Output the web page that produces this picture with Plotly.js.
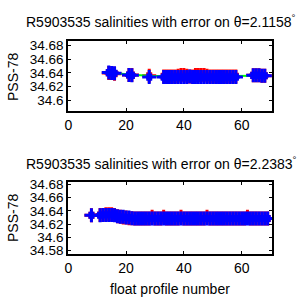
<!DOCTYPE html>
<html><head><meta charset="utf-8">
<script src="https://cdn.plot.ly/plotly-3.0.1.min.js"></script>
<style>html,body{margin:0;padding:0;background:#fff}#c{width:300px;height:300px}</style>
</head><body><div id="c"></div>
<script>
// Top panel (theta = 2.1158)
const topProfiles = [14,15,16,21,22,28,33,34,35,36,37,38,39,40,41,42,43,44,45,46,47,48,49,50,51,52,53,54,55,56,57,58,64,65,66,67,68];
const topUncal   = [34.640,34.640,34.639,34.637,34.637,34.636,34.635,34.635,34.635,34.635,34.635,34.636,34.637,34.637,34.636,34.635,34.635,34.637,34.637,34.637,34.637,34.636,34.635,34.635,34.635,34.635,34.635,34.635,34.635,34.635,34.635,34.635,34.6365,34.6365,34.6365,34.636,34.636];
const topCal     = [34.6405,34.640,34.6395,34.637,34.6365,34.634,34.634,34.634,34.634,34.634,34.634,34.634,34.634,34.634,34.634,34.635,34.634,34.634,34.634,34.634,34.634,34.634,34.634,34.634,34.634,34.634,34.634,34.634,34.634,34.634,34.634,34.634,34.6365,34.6365,34.6365,34.636,34.636];
const topErr     = [0.003,0.003,0.003,0.003,0.003,0.003,0.003,0.003,0.003,0.003,0.003,0.003,0.003,0.003,0.003,0.003,0.003,0.003,0.003,0.003,0.003,0.003,0.003,0.003,0.003,0.003,0.003,0.003,0.003,0.003,0.003,0.003,0.003,0.003,0.003,0.003,0.003];
const topMapped  = [34.6405,34.640,34.6398,34.638,34.6375,34.636,34.6357,34.6356,34.6356,34.6356,34.6356,34.6356,34.6356,34.6356,34.6356,34.6356,34.6356,34.6355,34.6355,34.6355,34.6355,34.6355,34.6355,34.6355,34.6355,34.6355,34.6355,34.6355,34.6355,34.6355,34.6354,34.6353,34.6352,34.6355,34.6357,34.6358,34.636];

// Bottom panel (theta = 2.2383)
const botProfiles = [8,11,12,13,14,15,16,17,18,19,20,21,22,23,24,25,26,27,28,29,30,31,32,33,34,35,36,37,38,39,40,41,42,43,44,45,46,47,48,49,50,51,52,53,54,55,56,57,58,59,60,61,62,63,64,65,66,67,68,69];
const botUncal   = [34.6335,34.634,34.634,34.635,34.635,34.635,34.634,34.632,34.631,34.630,34.630,34.629,34.629,34.6285,34.6285,34.6285,34.6285,34.6285,34.6285,34.631,34.6285,34.6285,34.6285,34.631,34.6285,34.6285,34.6285,34.6285,34.6285,34.631,34.6285,34.6285,34.6285,34.6285,34.6285,34.6285,34.6285,34.6285,34.631,34.6285,34.6285,34.6285,34.6285,34.6285,34.6285,34.6285,34.6285,34.6285,34.6285,34.6285,34.6285,34.6285,34.631,34.6285,34.6285,34.6285,34.6285,34.6285,34.6285,34.6285];
const botCal     = [34.6335,34.6335,34.634,34.634,34.634,34.634,34.6335,34.632,34.631,34.631,34.630,34.630,34.629,34.6285,34.6285,34.6285,34.6285,34.6285,34.6285,34.6285,34.6285,34.6285,34.6285,34.6285,34.6285,34.6285,34.6285,34.6285,34.6285,34.6285,34.6285,34.6285,34.6285,34.6285,34.6285,34.6285,34.6285,34.6285,34.6285,34.6285,34.6285,34.6285,34.6285,34.6285,34.6285,34.6285,34.6285,34.6285,34.6285,34.6285,34.6285,34.6285,34.6285,34.6285,34.6285,34.6285,34.6285,34.6285,34.6285,34.6285];
const botErr     = [0.003,0.003,0.003,0.003,0.003,0.003,0.003,0.003,0.003,0.003,0.003,0.003,0.003,0.003,0.003,0.003,0.003,0.003,0.003,0.003,0.003,0.003,0.003,0.003,0.003,0.003,0.003,0.003,0.003,0.003,0.003,0.003,0.003,0.003,0.003,0.003,0.003,0.003,0.003,0.003,0.003,0.003,0.003,0.003,0.003,0.003,0.003,0.003,0.003,0.003,0.003,0.003,0.003,0.003,0.003,0.003,0.003,0.003,0.003,0.003];

const xTicks = [0,20,40,60];
const topYTicks = [34.6,34.62,34.64,34.66,34.68];
const topYLabels = ['34.6','34.62','34.64','34.66','34.68'];
const botYTicks = [34.58,34.6,34.62,34.64,34.66,34.68];
const botYLabels = ['34.58','34.6','34.62','34.64','34.66','34.68'];
const topTitle = 'R5903535 salinities with error on θ=2.1158<sup>°</sup>';
const botTitle = 'R5903535 salinities with error on θ=2.2383<sup>°</sup>';
const yTitle = 'PSS-78';
const xTitle = 'float profile number';

const FONT = 'Liberation Sans, Arial, sans-serif';
const red = '#ff0000', blue = '#0000ff', green = '#00ff00';

function marks(x, y, err, color, xa, ya, lines) {
  return {
    x: x, y: y, xaxis: xa, yaxis: ya, type: 'scatter',
    mode: lines ? 'lines+markers' : 'markers',
    line: {color: color, width: 2},
    marker: {symbol: 'cross-thin', size: 10, color: color, line: {color: color, width: 3}},
    error_y: {type: 'data', array: err, visible: true, color: color, thickness: 3, width: 3},
    showlegend: false, hoverinfo: 'skip'
  };
}

const data = [
  marks(topProfiles, topUncal, topErr, red, 'x', 'y', false),
  {x: topProfiles, y: topMapped, xaxis: 'x', yaxis: 'y', type: 'scatter', mode: 'lines', line: {color: green, width: 2}, showlegend: false},
  marks(topProfiles, topCal, topErr, blue, 'x', 'y', false),
  marks(botProfiles, botUncal, botErr, red, 'x2', 'y2', false),
  marks(botProfiles, botCal, botErr, blue, 'x2', 'y2', true)
];

const TF = {family: FONT, size: 14, color: '#000'};
const YF = {family: FONT, size: 13.5, color: '#000'};

function xax(anchor) {
  return {
    anchor: anchor, domain: [0.2277, 0.9077], range: [0, 70.6],
    tickvals: xTicks, ticktext: xTicks.map(String),
    ticks: 'inside', ticklen: 3, tickwidth: 1, tickcolor: '#000',
    showline: true, linecolor: '#000', linewidth: 2, mirror: 'ticks',
    showgrid: false, zeroline: false, tickfont: TF
  };
}
function yax(anchor, dom, range, tv, tt) {
  return {
    anchor: anchor, domain: dom, range: range,
    tickvals: tv, ticktext: tt,
    ticks: 'inside', ticklen: 3, tickwidth: 1, tickcolor: '#000',
    showline: true, linecolor: '#000', linewidth: 2, mirror: 'ticks',
    showgrid: false, zeroline: false, tickfont: YF
  };
}
function ann(text, x, y, angle) {
  return {text: text, xref: 'paper', yref: 'paper', x: x / 300, y: 1 - y / 300, showarrow: false,
          xanchor: 'center', yanchor: 'middle', textangle: angle || 0, font: TF};
}

const layout = {
  width: 300, height: 300,
  margin: {l: 0, r: 0, t: 0, b: 0},
  paper_bgcolor: '#fff', plot_bgcolor: '#fff',
  xaxis: xax('y'),
  yaxis: yax('x', [0.631, 0.8643], [34.585, 34.687], topYTicks, topYLabels),
  xaxis2: xax('y2'),
  yaxis2: yax('x2', [0.1533, 0.3943], [34.575, 34.684], botYTicks, botYLabels),
  annotations: [
    ann(topTitle, 161, 21),
    ann(botTitle, 161, 163),
    ann(yTitle, 13, 77, -90),
    ann(yTitle, 13, 218, -90),
    ann(xTitle, 170, 289)
  ]
};

Plotly.newPlot('c', data, layout, {staticPlot: true, displayModeBar: false});
</script>
</body></html>
